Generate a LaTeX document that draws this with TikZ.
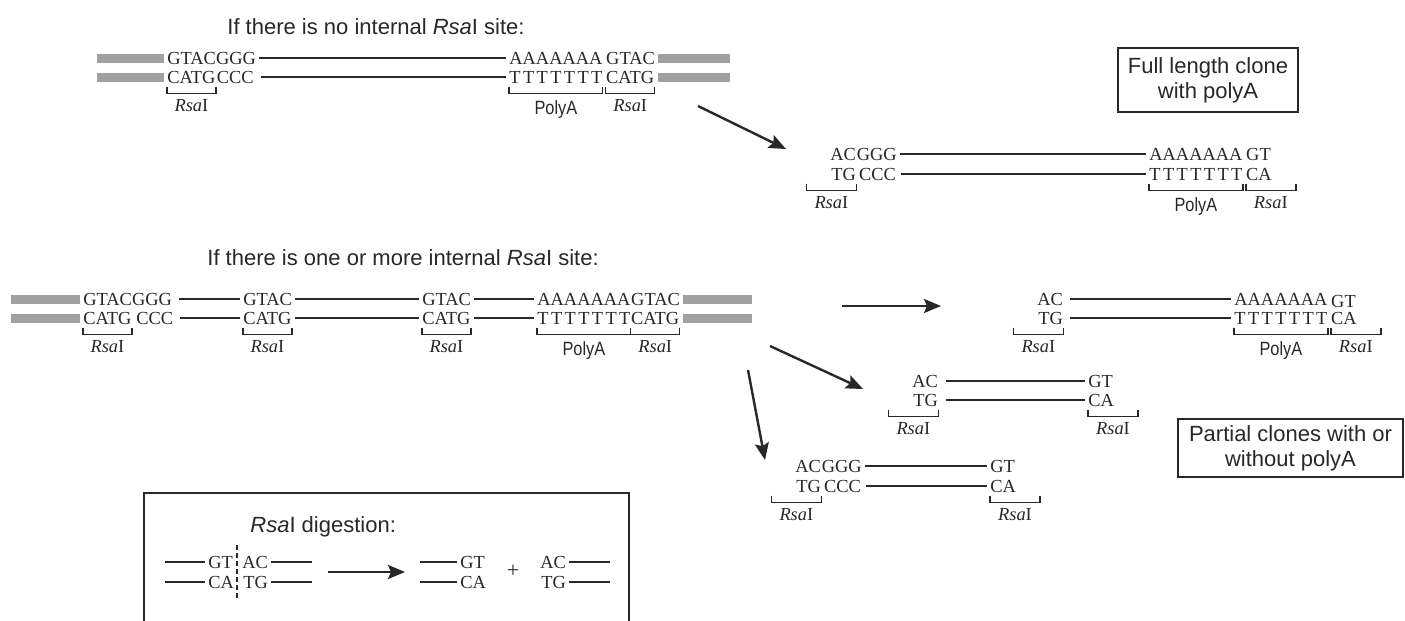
\documentclass[tikz,border=0pt]{standalone}
\usepackage{fontspec}
\setmainfont{Liberation Serif}
\setsansfont{Liberation Sans}
\usetikzlibrary{arrows.meta}
\definecolor{ink}{RGB}{40,40,40}
\definecolor{barc}{RGB}{160,160,160}
\newcommand\Tseven{\makebox[5.054em][s]{T\hfill T\hfill T\hfill T\hfill T\hfill T\hfill T}}
\newcommand\Rsa{\textit{Rsa}I}
% bracket: #1 left anchor, #2 xshift, #3 right anchor, #4 xshift, #5 label, #6 label style, #7 label name
\newcommand\brkt[7]{%
  \draw[brk] ([xshift=#2,yshift=-1.5pt]#1) -- ([xshift=#2,yshift=-5pt]#1) -- ([xshift=#4,yshift=-5pt]#3) -- ([xshift=#4,yshift=-1.5pt]#3);
  \path ([xshift=#2,yshift=-5pt]#1) -- ([xshift=#4,yshift=-5pt]#3) node[midway,#6] (#7) {#5};}
\tikzset{
  seq/.style={anchor=west, inner sep=0pt, font=\fontsize{9.2}{10}\selectfont, text height=6.1pt, text depth=0pt, text=ink},
  strandline/.style={draw=ink, line width=0.75pt, shorten <=1.5pt, shorten >=1.5pt},
  greybar/.style={draw=barc, line width=4.5pt, shorten <=1.5pt, shorten >=1.5pt},
  brk/.style={draw=ink, line width=0.7pt},
  rsalab/.style={anchor=north, inner sep=0pt, yshift=-3pt, font=\fontsize{9.2}{10}\selectfont, text=ink},
  polylab/.style={anchor=north, inner sep=0pt, yshift=-3.5pt, font=\sffamily\fontsize{9.6}{10}\selectfont\addfontfeature{FakeStretch=0.85}, text=ink},
  title/.style={anchor=west, inner sep=0pt, font=\sffamily\fontsize{11}{13}\selectfont, text=ink},
  arr/.style={draw=ink, line width=1.2pt, -{Stealth[length=8.5pt,width=7pt,inset=1.5pt]}},
  box/.style={draw=ink, line width=1.1pt, align=center, font=\sffamily\fontsize{11}{12.5}\selectfont, text=ink, inner sep=2pt},
  plus/.style={inner sep=0pt, font=\fontsize{11}{12}\selectfont, text=ink}
}
\begin{document}
\begin{tikzpicture}[x=0.5pt,y=-0.5pt]
\useasboundingbox (0,0) rectangle (1405,621);
\fill[white] (0,0) rectangle (1405,621);

% ---------------- Row 1 ----------------
\node[title] (t1) at (227,27) {If there is no internal \textit{Rsa}I site:};
\node[seq] (r1a) at (167,58) {GTACGGG};
\node[seq] (r1b) at (167,77) {CATG};
\node[seq] (r1c) at ([xshift=0.3pt]r1b.east) {CCC};
\node[seq] (r1d) at (509,58) {AAAAAAA};
\node[seq] (r1e) at ([xshift=1.5pt]r1d.east) {GTAC};
\node[seq] (r1f) at (509,77) {\Tseven};
\node[seq] (r1g) at ([xshift=1.5pt]r1f.east) {CATG};
\coordinate (r1l1) at (94,58); \coordinate (r1l2) at (94,77);
\coordinate (r1r1) at (733,58); \coordinate (r1r2) at (733,77);
\draw[greybar] (r1l1) -- (r1a.west);
\draw[greybar] (r1l2) -- (r1b.west);
\draw[greybar] (r1e.east) -- (r1r1);
\draw[greybar] (r1g.east) -- (r1r2);
\draw[strandline] (r1a) -- (r1d);
\draw[strandline] ([xshift=2pt]r1c.east) -- (r1f.west);
\brkt{r1b.south west}{0pt}{r1b.south east}{0pt}{\Rsa}{rsalab}{r1lab1}
\brkt{r1f.south west}{0pt}{r1f.south east}{0pt}{PolyA}{polylab}{r1lab2}
\brkt{r1g.south west}{0pt}{r1g.south east}{0pt}{\Rsa}{rsalab}{r1lab3}

\node[box, minimum width=90pt, minimum height=32pt] (fl) at (1208,80) {Full length clone\\with polyA};

\coordinate (a1s) at (698,106); \coordinate (a1e) at (786,149);
\draw[arr] (a1s) -- (a1e);

% ---------------- Product 1 ----------------
\node[seq] (p1a) at (830,154) {AC};
\node[seq] (p1b) at (p1a.east) {GGG};
\node[seq, anchor=east] (p1c) at ([yshift=-10pt]p1a.east) {TG};
\node[seq] (p1d) at ([yshift=-10pt,xshift=1.2pt]p1b.west) {CCC};
\node[seq] (p1e) at (1149,154) {AAAAAAA};
\node[seq] (p1f) at ([xshift=1.5pt]p1e.east) {GT};
\node[seq] (p1g) at (1149,174) {\Tseven};
\node[seq] (p1h) at ([xshift=1.5pt]p1g.east) {CA};
\draw[strandline] (p1b) -- (p1e);
\draw[strandline] ([xshift=1pt]p1d.east) -- (p1g.west);
\brkt{p1c.south east}{-25pt}{p1c.south east}{0pt}{\Rsa}{rsalab}{p1lab1}
\brkt{p1g.south west}{0pt}{p1g.south east}{0pt}{PolyA}{polylab}{p1lab2}
\brkt{p1h.south west}{0pt}{p1h.south west}{25pt}{\Rsa}{rsalab}{p1lab3}

% ---------------- Row 2 ----------------
\node[title] (t2) at (207,258) {If there is one or more internal \textit{Rsa}I site:};
\node[seq] (r2a) at (83,299) {GTACGGG};
\node[seq] (r2b) at (83,318) {CATG};
\node[seq] (r2c) at ([xshift=2pt]r2b.east) {CCC};
\node[seq] (r2d) at (243,299) {GTAC};
\node[seq] (r2e) at (243,318) {CATG};
\node[seq] (r2f) at (422,299) {GTAC};
\node[seq] (r2g) at (422,318) {CATG};
\node[seq] (r2h) at (537,299) {AAAAAAA};
\node[seq] (r2i) at (r2h.east) {GTAC};
\node[seq] (r2j) at (537,318) {\Tseven};
\node[seq] (r2k) at (r2j.east) {CATG};
\coordinate (r2l1) at (8,299); \coordinate (r2l2) at (8,318);
\coordinate (r2r1) at (755,299); \coordinate (r2r2) at (755,318);
\draw[greybar] (r2l1) -- (r2a.west);
\draw[greybar] (r2l2) -- (r2b.west);
\draw[greybar] (r2i.east) -- (r2r1);
\draw[greybar] (r2k.east) -- (r2r2);
\draw[strandline] ([xshift=2pt]r2a.east) -- (r2d);
\draw[strandline] (r2d) -- (r2f);
\draw[strandline] (r2f) -- (r2h);
\draw[strandline] ([xshift=2pt]r2c.east) -- (r2e);
\draw[strandline] (r2e) -- (r2g);
\draw[strandline] (r2g) -- (r2j);
\brkt{r2b.south west}{0pt}{r2b.south east}{0pt}{\Rsa}{rsalab}{r2lab1}
\brkt{r2e.south west}{0pt}{r2e.south east}{0pt}{\Rsa}{rsalab}{r2lab2}
\brkt{r2g.south west}{0pt}{r2g.south east}{0pt}{\Rsa}{rsalab}{r2lab3}
\brkt{r2j.south west}{0pt}{r2j.south east}{0pt}{PolyA}{polylab}{r2lab4}
\brkt{r2k.south west}{0pt}{r2k.south east}{0pt}{\Rsa}{rsalab}{r2lab5}

% arrows of row 2
\coordinate (a2s) at (842,306); \coordinate (a2e) at (941,306);
\draw[arr] (a2s) -- (a2e);
\coordinate (a3s) at (770,346); \coordinate (a3e) at (863,389);
\draw[arr] (a3s) -- (a3e);
\coordinate (a4s) at (748,370); \coordinate (a4e) at (765,460);
\draw[arr] (a4s) -- (a4e);

% ---------------- Product 2 ----------------
\node[seq] (p2a) at (1037,299) {AC};
\node[seq, anchor=east] (p2b) at ([yshift=-9.5pt]p2a.east) {TG};
\node[seq] (p2c) at (1234,299) {AAAAAAA};
\node[seq] (p2d) at ([xshift=1.5pt,yshift=-1pt]p2c.east) {GT};
\node[seq] (p2e) at (1234,318) {\Tseven};
\node[seq] (p2f) at ([xshift=1.5pt]p2e.east) {CA};
\draw[strandline] ([xshift=2pt]p2a.east) -- (p2c);
\draw[strandline] ([xshift=2pt]p2b.east) -- (p2e);
\brkt{p2b.south east}{-25pt}{p2b.south east}{0pt}{\Rsa}{rsalab}{p2lab1}
\brkt{p2e.south west}{0pt}{p2e.south east}{0pt}{PolyA}{polylab}{p2lab2}
\brkt{p2f.south west}{0pt}{p2f.south west}{25pt}{\Rsa}{rsalab}{p2lab3}

% ---------------- Product 3 ----------------
\node[seq] (p3a) at (912,381) {AC};
\node[seq, anchor=east] (p3b) at ([yshift=-9.5pt]p3a.east) {TG};
\node[seq] (p3c) at (1088,381) {GT};
\node[seq] (p3d) at (1088,400) {CA};
\draw[strandline] ([xshift=2.5pt]p3a.east) -- (p3c);
\draw[strandline] ([xshift=2.5pt]p3b.east) -- (p3d);
\brkt{p3b.south east}{-25pt}{p3b.south east}{0pt}{\Rsa}{rsalab}{p3lab1}
\brkt{p3d.south west}{0pt}{p3d.south west}{25pt}{\Rsa}{rsalab}{p3lab2}

\node[box, minimum width=112.5pt, minimum height=29pt] (pc) at (1290.5,448) {Partial clones with or\\without polyA};

% ---------------- Product 4 ----------------
\node[seq] (p4a) at (795,466) {AC};
\node[seq] (p4b) at (p4a.east) {GGG};
\node[seq, anchor=east] (p4c) at ([yshift=-10pt]p4a.east) {TG};
\node[seq] (p4d) at ([yshift=-10pt,xshift=1.2pt]p4b.west) {CCC};
\node[seq] (p4e) at (990,466) {GT};
\node[seq] (p4f) at (990,486) {CA};
\draw[strandline] (p4b) -- (p4e);
\draw[strandline] ([xshift=1pt]p4d.east) -- (p4f);
\brkt{p4c.south east}{-25pt}{p4c.south east}{0pt}{\Rsa}{rsalab}{p4lab1}
\brkt{p4f.south west}{0pt}{p4f.south west}{25pt}{\Rsa}{rsalab}{p4lab2}

% ---------------- Digestion box ----------------
\draw[draw=ink, line width=0.9pt] (144,630) -- (144,493) -- (629,493) -- (629,630);
\node[title] (dt) at (250,527) {\textit{Rsa}I digestion:};
\node[seq] (d1) at (208,562) {GT};
\node[seq] (d2) at (242,562) {AC};
\node[seq] (d3) at (208,582) {CA};
\node[seq] (d4) at (243,582) {TG};
\coordinate (d1l) at (162,562); \coordinate (d3l) at (162,582);
\coordinate (d2r) at (315,562); \coordinate (d4r) at (315,582);
\draw[strandline] (d1l) -- (d1);
\draw[strandline] (d3l) -- (d3);
\draw[strandline] (d2) -- (d2r);
\draw[strandline] (d4) -- (d4r);
\coordinate (cut1) at (237,545); \coordinate (cut2) at (237,600);
\draw[draw=ink, line width=0.7pt, dash pattern=on 2.5pt off 1.5pt] (cut1) -- (cut2);
\coordinate (a5s) at (328,572); \coordinate (a5e) at (405,572);
\draw[arr] (a5s) -- (a5e);
\node[seq] (d5) at (460,562) {GT};
\node[seq] (d6) at (460,582) {CA};
\coordinate (d5l) at (417,562); \coordinate (d6l) at (417,582);
\draw[strandline] (d5l) -- (d5);
\draw[strandline] (d6l) -- (d6);
\node[plus] (pl) at (513,571) {+};
\node[seq] (d7) at (540,562) {AC};
\node[seq, anchor=east] (d8) at ([yshift=-10pt]d7.east) {TG};
\coordinate (d7r) at (613,562); \coordinate (d8r) at (613,582);
\draw[strandline] (d7) -- (d7r);
\draw[strandline] (d8) -- (d8r);
\end{tikzpicture}
\end{document}
